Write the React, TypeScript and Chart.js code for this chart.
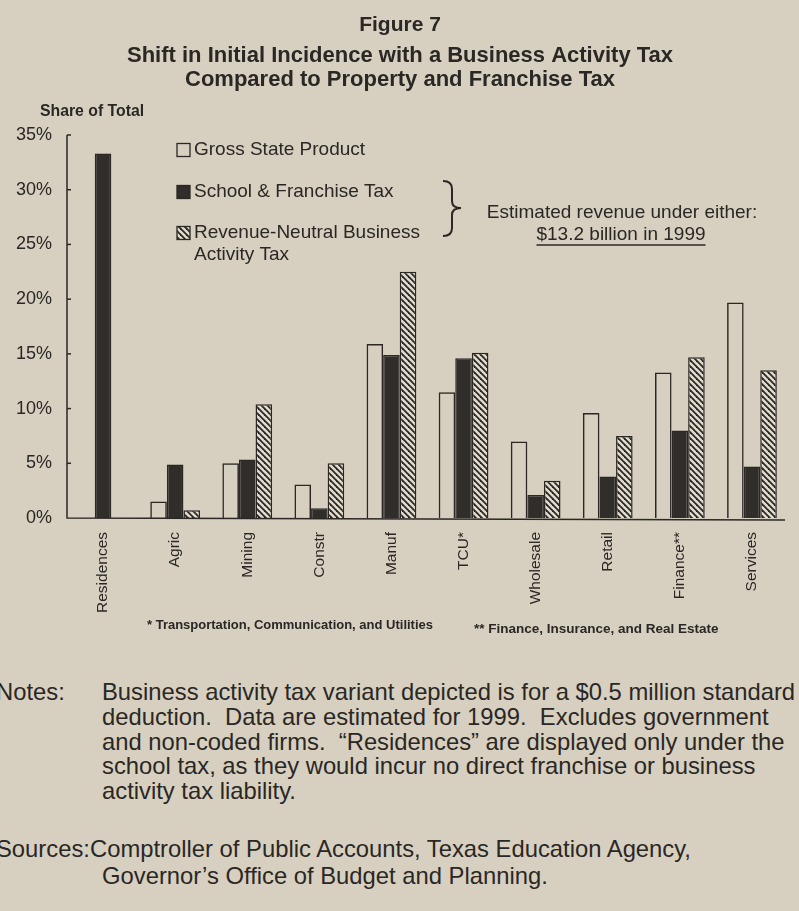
import React, { useEffect, useRef } from "react";
import { Chart, registerables } from "chart.js";

Chart.register(...registerables);

const categories = ["Residences", "Agric", "Mining", "Constr", "Manuf", "TCU*", "Wholesale", "Retail", "Finance**", "Services"];
const gspShare = [null, 1.5, 5.0, 3.05, 15.9, 11.5, 7.0, 9.6, 13.3, 19.7];
const schoolShare = [33.3, 4.9, 5.35, 0.9, 14.9, 14.6, 2.1, 3.8, 8.0, 4.7];
const batShare = [null, 0.7, 10.4, 5.0, 22.5, 15.1, 3.4, 7.5, 14.7, 13.5];
const yTickValues = [0, 5, 10, 15, 20, 25, 30, 35];
const seriesNames = ["Gross State Product", "School & Franchise Tax", "Revenue-Neutral Business Activity Tax"];
const titleLines = ["Figure 7", "Shift in Initial Incidence with a Business Activity Tax", "Compared to Property and Franchise Tax"];
const axisTitle = "Share of Total";
const annotationLines = ["Estimated revenue under either:", "$13.2 billion in 1999"];
const footnotes = ["* Transportation, Communication, and Utilities", "** Finance, Insurance, and Real Estate"];
const noteLines = [
  "Business activity tax variant depicted is for a $0.5 million standard",
  "deduction.  Data are estimated for 1999.  Excludes government",
  "and non-coded firms.  \u201cResidences\u201d are displayed only under the",
  "school tax, as they would incur no direct franchise or business",
  "activity tax liability.",
];
const sourceLines = ["Comptroller of Public Accounts, Texas Education Agency,", "Governor\u2019s Office of Budget and Planning."];

const FONT = '"Liberation Sans", Arial, Helvetica, sans-serif';
const INK = "#2a2724";
const PAPER = "#d7d0c1";
const DARK = "#302d2a";

function makeHatch(): CanvasPattern | string {
  const n = 6;
  const c = document.createElement("canvas");
  c.width = n;
  c.height = n;
  const g = c.getContext("2d");
  if (!g) return PAPER;
  g.fillStyle = "#e2dccf";
  g.fillRect(0, 0, n, n);
  g.strokeStyle = INK;
  g.lineWidth = 1.8;
  for (const k of [-n, 0, n]) {
    g.beginPath();
    g.moveTo(k - 1, -1);
    g.lineTo(k + n + 1, n + 1);
    g.stroke();
  }
  const p = g.createPattern(c, "repeat");
  return p || PAPER;
}

export default function App() {
  const ref = useRef<HTMLCanvasElement | null>(null);

  useEffect(() => {
    const canvas = ref.current;
    if (!canvas) return;
    const hatch = makeHatch();

    const deco = {
      id: "deco",
      afterDraw(chart: any) {
        const ctx = chart.ctx as CanvasRenderingContext2D;
        const area = chart.chartArea;
        const ys = chart.scales.y;
        ctx.save();
        ctx.strokeStyle = INK;
        ctx.fillStyle = INK;
        // axes
        ctx.lineWidth = 1.5;
        ctx.beginPath();
        ctx.moveTo(area.left, ys.getPixelForValue(35));
        ctx.lineTo(area.left, area.bottom);
        ctx.lineTo(area.right - 3, area.bottom + 2);
        ctx.stroke();
        // inward ticks
        for (const v of yTickValues) {
          if (v === 0) continue;
          const y = ys.getPixelForValue(v);
          ctx.beginPath();
          ctx.moveTo(area.left, y);
          ctx.lineTo(area.left + 4, y);
          ctx.stroke();
        }
        // titles
        ctx.textAlign = "center";
        ctx.textBaseline = "alphabetic";
        ctx.font = `bold 21px ${FONT}`;
        ctx.fillText(titleLines[0], 400, 31);
        ctx.font = `bold 22px ${FONT}`;
        ctx.fillText(titleLines[1], 400, 62);
        ctx.fillText(titleLines[2], 400, 86);
        // axis title
        ctx.textAlign = "left";
        ctx.textBaseline = "middle";
        ctx.font = `bold 15.8px ${FONT}`;
        ctx.fillText(axisTitle, 40, 112);
        // legend
        const rows = [150, 192, 233];
        const fills: any[] = ["rgba(0,0,0,0)", DARK, hatch];
        ctx.font = `19px ${FONT}`;
        rows.forEach((y, i) => {
          ctx.fillStyle = fills[i];
          ctx.fillRect(177, y - 6.5, 13, 13);
          ctx.lineWidth = 1.3;
          ctx.strokeRect(177, y - 6.5, 13, 13);
          ctx.fillStyle = INK;
        });
        ctx.fillText(seriesNames[0], 194, rows[0]);
        ctx.fillText(seriesNames[1], 194, rows[1]);
        const words = seriesNames[2].split(" ");
        ctx.fillText(words.slice(0, 2).join(" "), 194, rows[2]);
        ctx.fillText(words.slice(2).join(" "), 194, 255);
        // brace
        ctx.lineWidth = 2;
        ctx.beginPath();
        ctx.moveTo(443, 181);
        ctx.quadraticCurveTo(452, 181, 452, 189);
        ctx.lineTo(452, 201);
        ctx.quadraticCurveTo(452, 208, 461, 208);
        ctx.quadraticCurveTo(452, 208, 452, 215);
        ctx.lineTo(452, 228);
        ctx.quadraticCurveTo(452, 236, 443, 236);
        ctx.stroke();
        // annotation
        ctx.textAlign = "center";
        ctx.font = `19px ${FONT}`;
        ctx.fillText(annotationLines[0], 622, 213);
        ctx.fillText(annotationLines[1], 621, 235);
        const w = ctx.measureText(annotationLines[1]).width;
        ctx.lineWidth = 1.3;
        ctx.beginPath();
        ctx.moveTo(621 - w / 2, 245);
        ctx.lineTo(621 + w / 2, 245);
        ctx.stroke();
        // footnotes
        ctx.textAlign = "left";
        ctx.font = `bold 13px ${FONT}`;
        ctx.fillText(footnotes[0], 147, 625);
        ctx.font = `bold 13.5px ${FONT}`;
        ctx.fillText(footnotes[1], 474, 629);
        ctx.restore();
      },
    };

    const chart = new Chart(canvas, {
      type: "bar",
      data: {
        labels: categories,
        datasets: [
          { label: seriesNames[0], data: gspShare as any, backgroundColor: "rgba(0,0,0,0)", borderColor: INK, borderWidth: 1.5 },
          { label: seriesNames[1], data: schoolShare, backgroundColor: DARK, borderColor: INK, borderWidth: 1.5 },
          { label: seriesNames[2], data: batShare as any, backgroundColor: hatch as any, borderColor: INK, borderWidth: 1.5 },
        ],
      },
      options: {
        responsive: false,
        animation: false,
        devicePixelRatio: 1,
        layout: { padding: { top: 135, left: 0, right: 11, bottom: 0 } },
        datasets: { bar: { barPercentage: 1, categoryPercentage: 0.69 } } as any,
        plugins: { legend: { display: false }, tooltip: { enabled: false }, title: { display: false } },
        scales: {
          x: {
            grid: { display: false, drawTicks: false },
            border: { display: false },
            ticks: { color: INK, font: { family: FONT, size: 15.5 }, minRotation: 90, maxRotation: 90, autoSkip: false, padding: 14 },
            afterFit(scale: any) {
              scale.height = 650 - 518;
            },
          },
          y: {
            min: 0,
            max: 35,
            grid: { display: false, drawTicks: false },
            border: { display: false },
            ticks: {
              stepSize: 5,
              color: INK,
              font: { family: FONT, size: 18 },
              padding: 15,
              callback: (v: any) => `${v}%`,
            },
            afterFit(scale: any) {
              scale.width = 67;
            },
          },
        },
      },
      plugins: [deco],
    });
    return () => chart.destroy();
  }, []);

  const textStyle: React.CSSProperties = {
    position: "absolute",
    fontFamily: FONT,
    fontSize: 23.8,
    color: INK,
    whiteSpace: "pre",
    lineHeight: "25px",
  };

  return (
    <div style={{ position: "absolute", left: 0, top: 0, width: 799, height: 911, background: PAPER, overflow: "hidden" }}>
      <canvas ref={ref} width={799} height={650} style={{ position: "absolute", left: 0, top: 0, display: "block" }} />
      <div style={{ ...textStyle, left: -4, top: 679 }}>Notes:</div>
      {noteLines.map((l, i) => (
        <div key={i} style={{ ...textStyle, left: 102, top: 679 + i * 24.8 }}>
          {l}
        </div>
      ))}
      <div style={{ ...textStyle, left: -4, top: 836 }}>Sources:</div>
      <div style={{ ...textStyle, left: 90, top: 836 }}>{sourceLines[0]}</div>
      <div style={{ ...textStyle, left: 102, top: 863 }}>{sourceLines[1]}</div>
    </div>
  );
}
